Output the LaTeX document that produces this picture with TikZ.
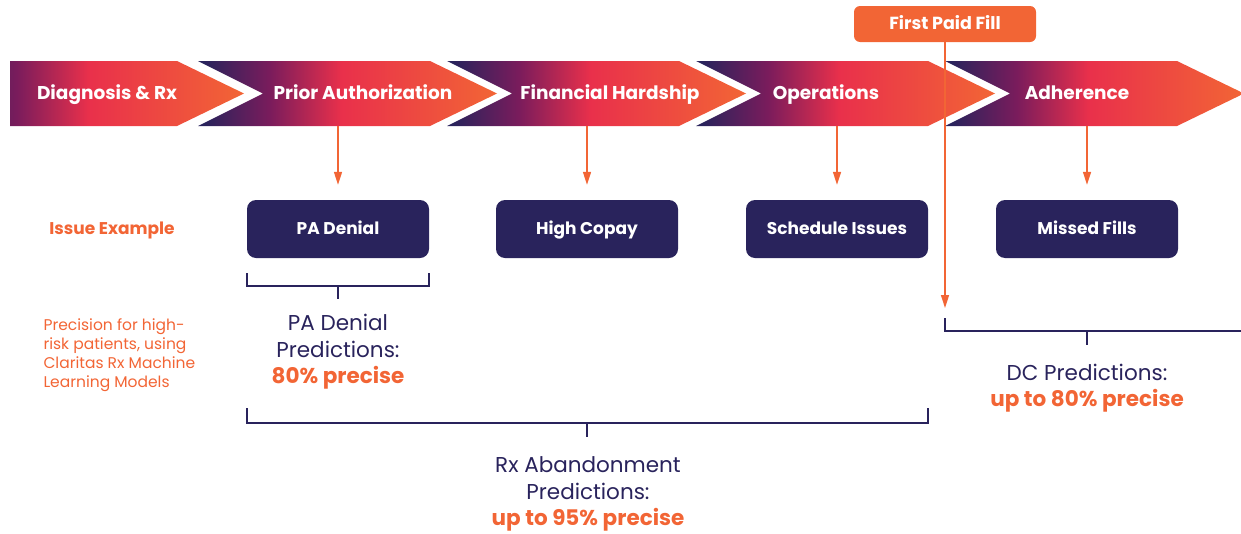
\documentclass[tikz,border=0pt]{standalone}
\usepackage{fontspec}
\setmainfont{Poppins}
\usetikzlibrary{arrows.meta}
\definecolor{cnavy}{HTML}{29235C}
\definecolor{cpurple}{HTML}{7A1C5C}
\definecolor{cred}{HTML}{E9304B}
\definecolor{corange}{HTML}{F26535}
\pgfdeclarehorizontalshading{chev}{100bp}{color(0bp)=(cnavy); color(26bp)=(cnavy); color(37bp)=(cpurple); color(49bp)=(cred); color(75bp)=(corange); color(100bp)=(corange)}
\newcommand{\chevron}[1]{
\begin{scope}[shift={#1}]
\shade[shading=chev] (0,61) -- (232,61) -- (299,93.5) -- (232,126) -- (0,126) -- (65,93.5) -- cycle;
\end{scope}
}
\tikzset{
steplabel/.style={text=white,anchor=base,font=\fontsize{18.5}{22}\selectfont\bfseries},
issue/.style={fill=cnavy,rounded corners=9pt,minimum width=182pt,minimum height=58pt,text height=12.5pt,text depth=0.8pt,text=white,font=\fontsize{17}{20}\selectfont\bfseries},
paid/.style={fill=corange,rounded corners=6pt,minimum width=182pt,minimum height=36pt,text height=12.5pt,text depth=0.8pt,text=white,font=\fontsize{17.5}{20}\selectfont\bfseries},
flow/.style={corange,line width=1.5pt,-{Triangle[width=8pt,length=13pt]}},
brace/.style={cnavy,line width=1.5pt},
result/.style={text=cnavy,align=center,font=\fontsize{21.5}{26.5}\selectfont},
}
\begin{document}
\begin{tikzpicture}[x=1pt,y=-1pt]
\useasboundingbox (0,0) rectangle (1241,533);
\begin{scope}
\clip (10,0) rectangle (1241,533);
\chevron{(-55,0)};
\end{scope}
\chevron{(198,0)};
\chevron{(447,0)};
\chevron{(696,0)};
\chevron{(945,0)};
\node[steplabel] (diag) at (107,99.5) {Diagnosis \& Rx};
\node[steplabel] (prior) at (363,99.5) {Prior Authorization};
\node[steplabel] (fin) at (610,99.5) {Financial Hardship};
\node[steplabel] (ops) at (826,99.5) {Operations};
\node[steplabel] (adh) at (1077,99.5) {Adherence};
\coordinate (priorfoot) at (338,126);
\coordinate (finfoot) at (587,126);
\coordinate (opsfoot) at (837,126);
\coordinate (adhfoot) at (1087,126);
\node[issue] (padenial) at (338,229) {PA Denial};
\node[issue] (copay) at (587,229) {High Copay};
\node[issue] (schedule) at (837,229) {Schedule Issues};
\node[issue] (missed) at (1087,229) {Missed Fills};
\draw[flow,shorten >=15pt] (priorfoot) -- (padenial.north);
\draw[flow,shorten >=15pt] (finfoot) -- (copay.north);
\draw[flow,shorten >=15pt] (opsfoot) -- (schedule.north);
\draw[flow,shorten >=15pt] (adhfoot) -- (missed.north);
\node[paid] (firstfill) at (945,24) {First Paid Fill};
\coordinate (dcstart) at (945,308);
\draw[flow] (firstfill) -- (dcstart);
\node[text=corange,anchor=base,font=\fontsize{17}{20}\selectfont\bfseries] (issueex) at (112,234) {Issue Example};
\node[text=corange,align=left,anchor=west,font=\fontsize{15.5}{19}\selectfont] (precision) at (40,355) {Precision for high-\\risk patients, using\\Claritas Rx Machine\\Learning Models};
\draw[brace] (247,273) |- (429,286) -- (429,273);
\draw[brace] (338,286) -- (338,299);
\draw[brace] (247,408) |- (928,423) -- (928,408);
\draw[brace] (587,423) -- (587,437);
\draw[brace] (945,318) |- (1241,331);
\draw[brace] (1087,331) -- (1087,345);
\node[result] (paresult) at (338,352) {PA Denial\\Predictions:\\\textcolor{corange}{\bfseries 80\% precise}};
\node[result] (rxresult) at (588,494) {Rx Abandonment\\Predictions:\\\textcolor{corange}{\bfseries up to 95\% precise}};
\node[result] (dcresult) at (1087,388) {DC Predictions:\\\textcolor{corange}{\bfseries up to 80\% precise}};
\end{tikzpicture}
\end{document}
